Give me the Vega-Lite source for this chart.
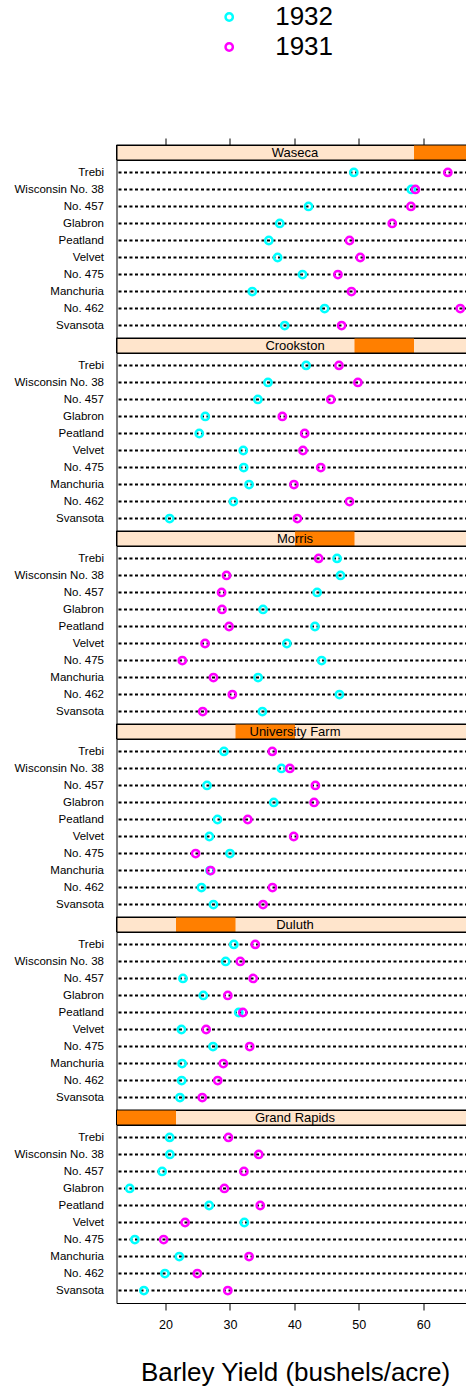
{
  "$schema": "https://vega.github.io/schema/vega-lite/v6.json",
  "padding": {"left": 13.5, "top": 4, "right": 0, "bottom": 2},
  "spacing": 0,
  "bounds": "flush",
  "datasets": {
    "strips": [
      {"site": "Waseca", "level": 6},
      {"site": "Crookston", "level": 5},
      {"site": "Morris", "level": 4},
      {"site": "University Farm", "level": 3},
      {"site": "Duluth", "level": 2},
      {"site": "Grand Rapids", "level": 1}
    ],
    "barley": [
      {"site": "University Farm", "variety": "Manchuria", "year": "1932", "yield": 26.9},
      {"site": "Waseca", "variety": "Manchuria", "year": "1932", "yield": 33.46667},
      {"site": "Morris", "variety": "Manchuria", "year": "1932", "yield": 34.36666},
      {"site": "Crookston", "variety": "Manchuria", "year": "1932", "yield": 32.96667},
      {"site": "Grand Rapids", "variety": "Manchuria", "year": "1932", "yield": 22.13333},
      {"site": "Duluth", "variety": "Manchuria", "year": "1932", "yield": 22.56667},
      {"site": "University Farm", "variety": "Glabron", "year": "1932", "yield": 36.8},
      {"site": "Waseca", "variety": "Glabron", "year": "1932", "yield": 37.73333},
      {"site": "Morris", "variety": "Glabron", "year": "1932", "yield": 35.13333},
      {"site": "Crookston", "variety": "Glabron", "year": "1932", "yield": 26.16667},
      {"site": "Grand Rapids", "variety": "Glabron", "year": "1932", "yield": 14.43333},
      {"site": "Duluth", "variety": "Glabron", "year": "1932", "yield": 25.86667},
      {"site": "University Farm", "variety": "Svansota", "year": "1932", "yield": 27.43334},
      {"site": "Waseca", "variety": "Svansota", "year": "1932", "yield": 38.5},
      {"site": "Morris", "variety": "Svansota", "year": "1932", "yield": 35.03333},
      {"site": "Crookston", "variety": "Svansota", "year": "1932", "yield": 20.63333},
      {"site": "Grand Rapids", "variety": "Svansota", "year": "1932", "yield": 16.63333},
      {"site": "Duluth", "variety": "Svansota", "year": "1932", "yield": 22.23333},
      {"site": "University Farm", "variety": "Velvet", "year": "1932", "yield": 26.8},
      {"site": "Waseca", "variety": "Velvet", "year": "1932", "yield": 37.4},
      {"site": "Morris", "variety": "Velvet", "year": "1932", "yield": 38.83333},
      {"site": "Crookston", "variety": "Velvet", "year": "1932", "yield": 32.06666},
      {"site": "Grand Rapids", "variety": "Velvet", "year": "1932", "yield": 32.23333},
      {"site": "Duluth", "variety": "Velvet", "year": "1932", "yield": 22.46667},
      {"site": "University Farm", "variety": "Trebi", "year": "1932", "yield": 29.06667},
      {"site": "Waseca", "variety": "Trebi", "year": "1932", "yield": 49.2333},
      {"site": "Morris", "variety": "Trebi", "year": "1932", "yield": 46.63333},
      {"site": "Crookston", "variety": "Trebi", "year": "1932", "yield": 41.83333},
      {"site": "Grand Rapids", "variety": "Trebi", "year": "1932", "yield": 20.63333},
      {"site": "Duluth", "variety": "Trebi", "year": "1932", "yield": 30.6},
      {"site": "University Farm", "variety": "No. 457", "year": "1932", "yield": 26.43334},
      {"site": "Waseca", "variety": "No. 457", "year": "1932", "yield": 42.2},
      {"site": "Morris", "variety": "No. 457", "year": "1932", "yield": 43.53334},
      {"site": "Crookston", "variety": "No. 457", "year": "1932", "yield": 34.33333},
      {"site": "Grand Rapids", "variety": "No. 457", "year": "1932", "yield": 19.46667},
      {"site": "Duluth", "variety": "No. 457", "year": "1932", "yield": 22.7},
      {"site": "University Farm", "variety": "No. 462", "year": "1932", "yield": 25.56667},
      {"site": "Waseca", "variety": "No. 462", "year": "1932", "yield": 44.7},
      {"site": "Morris", "variety": "No. 462", "year": "1932", "yield": 47},
      {"site": "Crookston", "variety": "No. 462", "year": "1932", "yield": 30.53333},
      {"site": "Grand Rapids", "variety": "No. 462", "year": "1932", "yield": 19.9},
      {"site": "Duluth", "variety": "No. 462", "year": "1932", "yield": 22.5},
      {"site": "University Farm", "variety": "Peatland", "year": "1932", "yield": 28.06667},
      {"site": "Waseca", "variety": "Peatland", "year": "1932", "yield": 36.03333},
      {"site": "Morris", "variety": "Peatland", "year": "1932", "yield": 43.2},
      {"site": "Crookston", "variety": "Peatland", "year": "1932", "yield": 25.23333},
      {"site": "Grand Rapids", "variety": "Peatland", "year": "1932", "yield": 26.76667},
      {"site": "Duluth", "variety": "Peatland", "year": "1932", "yield": 31.36667},
      {"site": "University Farm", "variety": "No. 475", "year": "1932", "yield": 30},
      {"site": "Waseca", "variety": "No. 475", "year": "1932", "yield": 41.26667},
      {"site": "Morris", "variety": "No. 475", "year": "1932", "yield": 44.23333},
      {"site": "Crookston", "variety": "No. 475", "year": "1932", "yield": 32.13333},
      {"site": "Grand Rapids", "variety": "No. 475", "year": "1932", "yield": 15.23333},
      {"site": "Duluth", "variety": "No. 475", "year": "1932", "yield": 27.36667},
      {"site": "University Farm", "variety": "Wisconsin No. 38", "year": "1932", "yield": 38},
      {"site": "Waseca", "variety": "Wisconsin No. 38", "year": "1932", "yield": 58.16667},
      {"site": "Morris", "variety": "Wisconsin No. 38", "year": "1932", "yield": 47.16667},
      {"site": "Crookston", "variety": "Wisconsin No. 38", "year": "1932", "yield": 35.9},
      {"site": "Grand Rapids", "variety": "Wisconsin No. 38", "year": "1932", "yield": 20.66667},
      {"site": "Duluth", "variety": "Wisconsin No. 38", "year": "1932", "yield": 29.33333},
      {"site": "University Farm", "variety": "Manchuria", "year": "1931", "yield": 27},
      {"site": "Waseca", "variety": "Manchuria", "year": "1931", "yield": 48.86667},
      {"site": "Morris", "variety": "Manchuria", "year": "1931", "yield": 27.43334},
      {"site": "Crookston", "variety": "Manchuria", "year": "1931", "yield": 39.93333},
      {"site": "Grand Rapids", "variety": "Manchuria", "year": "1931", "yield": 32.96667},
      {"site": "Duluth", "variety": "Manchuria", "year": "1931", "yield": 28.96667},
      {"site": "University Farm", "variety": "Glabron", "year": "1931", "yield": 43.06666},
      {"site": "Waseca", "variety": "Glabron", "year": "1931", "yield": 55.2},
      {"site": "Morris", "variety": "Glabron", "year": "1931", "yield": 28.76667},
      {"site": "Crookston", "variety": "Glabron", "year": "1931", "yield": 38.13333},
      {"site": "Grand Rapids", "variety": "Glabron", "year": "1931", "yield": 29.13333},
      {"site": "Duluth", "variety": "Glabron", "year": "1931", "yield": 29.66667},
      {"site": "University Farm", "variety": "Svansota", "year": "1931", "yield": 35.13333},
      {"site": "Waseca", "variety": "Svansota", "year": "1931", "yield": 47.33333},
      {"site": "Morris", "variety": "Svansota", "year": "1931", "yield": 25.76667},
      {"site": "Crookston", "variety": "Svansota", "year": "1931", "yield": 40.46667},
      {"site": "Grand Rapids", "variety": "Svansota", "year": "1931", "yield": 29.66667},
      {"site": "Duluth", "variety": "Svansota", "year": "1931", "yield": 25.7},
      {"site": "University Farm", "variety": "Velvet", "year": "1931", "yield": 39.9},
      {"site": "Waseca", "variety": "Velvet", "year": "1931", "yield": 50.23333},
      {"site": "Morris", "variety": "Velvet", "year": "1931", "yield": 26.13333},
      {"site": "Crookston", "variety": "Velvet", "year": "1931", "yield": 41.33333},
      {"site": "Grand Rapids", "variety": "Velvet", "year": "1931", "yield": 23.03333},
      {"site": "Duluth", "variety": "Velvet", "year": "1931", "yield": 26.3},
      {"site": "University Farm", "variety": "Trebi", "year": "1931", "yield": 36.56666},
      {"site": "Waseca", "variety": "Trebi", "year": "1931", "yield": 63.8333},
      {"site": "Morris", "variety": "Trebi", "year": "1931", "yield": 43.76667},
      {"site": "Crookston", "variety": "Trebi", "year": "1931", "yield": 46.93333},
      {"site": "Grand Rapids", "variety": "Trebi", "year": "1931", "yield": 29.76667},
      {"site": "Duluth", "variety": "Trebi", "year": "1931", "yield": 33.93333},
      {"site": "University Farm", "variety": "No. 457", "year": "1931", "yield": 43.26667},
      {"site": "Waseca", "variety": "No. 457", "year": "1931", "yield": 58.1},
      {"site": "Morris", "variety": "No. 457", "year": "1931", "yield": 28.7},
      {"site": "Crookston", "variety": "No. 457", "year": "1931", "yield": 45.66667},
      {"site": "Grand Rapids", "variety": "No. 457", "year": "1931", "yield": 32.16667},
      {"site": "Duluth", "variety": "No. 457", "year": "1931", "yield": 33.6},
      {"site": "University Farm", "variety": "No. 462", "year": "1931", "yield": 36.6},
      {"site": "Waseca", "variety": "No. 462", "year": "1931", "yield": 65.7667},
      {"site": "Morris", "variety": "No. 462", "year": "1931", "yield": 30.36667},
      {"site": "Crookston", "variety": "No. 462", "year": "1931", "yield": 48.56666},
      {"site": "Grand Rapids", "variety": "No. 462", "year": "1931", "yield": 24.93334},
      {"site": "Duluth", "variety": "No. 462", "year": "1931", "yield": 28.1},
      {"site": "University Farm", "variety": "Peatland", "year": "1931", "yield": 32.76667},
      {"site": "Waseca", "variety": "Peatland", "year": "1931", "yield": 48.56666},
      {"site": "Morris", "variety": "Peatland", "year": "1931", "yield": 29.86667},
      {"site": "Crookston", "variety": "Peatland", "year": "1931", "yield": 41.6},
      {"site": "Grand Rapids", "variety": "Peatland", "year": "1931", "yield": 34.7},
      {"site": "Duluth", "variety": "Peatland", "year": "1931", "yield": 32},
      {"site": "University Farm", "variety": "No. 475", "year": "1931", "yield": 24.66667},
      {"site": "Waseca", "variety": "No. 475", "year": "1931", "yield": 46.76667},
      {"site": "Morris", "variety": "No. 475", "year": "1931", "yield": 22.6},
      {"site": "Crookston", "variety": "No. 475", "year": "1931", "yield": 44.1},
      {"site": "Grand Rapids", "variety": "No. 475", "year": "1931", "yield": 19.7},
      {"site": "Duluth", "variety": "No. 475", "year": "1931", "yield": 33.06666},
      {"site": "University Farm", "variety": "Wisconsin No. 38", "year": "1931", "yield": 39.3},
      {"site": "Waseca", "variety": "Wisconsin No. 38", "year": "1931", "yield": 58.8},
      {"site": "Morris", "variety": "Wisconsin No. 38", "year": "1931", "yield": 29.46667},
      {"site": "Crookston", "variety": "Wisconsin No. 38", "year": "1931", "yield": 49.86667},
      {"site": "Grand Rapids", "variety": "Wisconsin No. 38", "year": "1931", "yield": 34.46667},
      {"site": "Duluth", "variety": "Wisconsin No. 38", "year": "1931", "yield": 31.6}
    ]
  },
  "config": {
    "font": "Liberation Sans",
    "view": {"stroke": "black", "strokeWidth": 1},
    "axis": {"labelColor": "black", "tickColor": "black", "titleColor": "black", "labelFont": "Liberation Sans", "titleFont": "Liberation Sans", "grid": false, "domain": false},
    "axisY": {"ticks": false, "labelFontSize": 11.5, "labelPadding": 13},
    "legend": {"orient": "none", "legendX": 99.7, "legendY": -141, "direction": "vertical", "labelFontSize": 26, "labelFont": "Liberation Sans", "labelColor": "black", "symbolSize": 53, "symbolStrokeWidth": 2.5, "symbolType": "circle", "rowPadding": 4, "labelOffset": 33, "padding": 0, "symbolOpacity": 1}
  },
  "resolve": {"scale": {"x": "independent", "y": "independent", "color": "shared"}},
  "vconcat": [
    {"width": 357, "height": 15, "view": {"fill": "#FFE5CC", "stroke": "black"}, "data": {"name": "strips"}, "transform": [{"filter": "datum.site === 'Waseca'"}],
     "layer": [
      {"mark": {"type": "rect", "color": "#FF7F00"}, "encoding": {"x": {"field": "level", "type": "ordinal", "scale": {"domain": [1, 2, 3, 4, 5, 6], "paddingInner": 0, "paddingOuter": 0}, "axis": null}}},
      {"mark": {"type": "rect", "fillOpacity": 0, "stroke": "black", "strokeWidth": 1}, "encoding": {}},
      {"mark": {"type": "text", "fontSize": 13, "color": "black"}, "encoding": {"text": {"field": "site"}, "x": {"datum": 40.1, "type": "quantitative", "scale": {"domain": [12.38, 67.82], "nice": false, "zero": false}, "axis": {"orient": "top", "values": [20, 30, 40, 50, 60], "labels": false, "tickSize": 7, "title": null}}}}
     ], "resolve": {"scale": {"x": "independent"}}},
    {"width": 357, "height": 178, "data": {"name": "barley"}, "transform": [{"filter": "datum.site === 'Waseca'"}],
     "encoding": {"y": {"field": "variety", "type": "nominal", "title": null, "scale": {"type": "point", "padding": 0.73, "domain": ["Trebi", "Wisconsin No. 38", "No. 457", "Glabron", "Peatland", "Velvet", "No. 475", "Manchuria", "No. 462", "Svansota"]}}},
     "layer": [
      {"transform": [{"filter": "datum.year === '1931'"}], "mark": {"type": "rule", "color": "black", "strokeDash": [3, 2.5], "strokeWidth": 2}, "encoding": {}},
      {"mark": {"type": "point", "filled": false, "size": 53, "strokeWidth": 2.5, "opacity": 1}, "encoding": {"x": {"field": "yield", "type": "quantitative", "scale": {"domain": [12.38, 67.82], "nice": false, "zero": false}, "axis": null}, "color": {"field": "year", "type": "nominal", "title": null, "scale": {"domain": ["1932", "1931"], "range": ["#00FFFF", "#FF00FF"]}}}}
     ]},
    {"width": 357, "height": 15, "view": {"fill": "#FFE5CC", "stroke": "black"}, "data": {"name": "strips"}, "transform": [{"filter": "datum.site === 'Crookston'"}],
     "layer": [
      {"mark": {"type": "rect", "color": "#FF7F00"}, "encoding": {"x": {"field": "level", "type": "ordinal", "scale": {"domain": [1, 2, 3, 4, 5, 6], "paddingInner": 0, "paddingOuter": 0}, "axis": null}}},
      {"mark": {"type": "rect", "fillOpacity": 0, "stroke": "black", "strokeWidth": 1}, "encoding": {}},
      {"mark": {"type": "text", "fontSize": 13, "color": "black"}, "encoding": {"text": {"field": "site"}, "x": {"datum": 40.1, "type": "quantitative", "scale": {"domain": [12.38, 67.82], "nice": false, "zero": false}, "axis": null}}}
     ], "resolve": {"scale": {"x": "independent"}}},
    {"width": 357, "height": 178, "data": {"name": "barley"}, "transform": [{"filter": "datum.site === 'Crookston'"}],
     "encoding": {"y": {"field": "variety", "type": "nominal", "title": null, "scale": {"type": "point", "padding": 0.73, "domain": ["Trebi", "Wisconsin No. 38", "No. 457", "Glabron", "Peatland", "Velvet", "No. 475", "Manchuria", "No. 462", "Svansota"]}}},
     "layer": [
      {"transform": [{"filter": "datum.year === '1931'"}], "mark": {"type": "rule", "color": "black", "strokeDash": [3, 2.5], "strokeWidth": 2}, "encoding": {}},
      {"mark": {"type": "point", "filled": false, "size": 53, "strokeWidth": 2.5, "opacity": 1}, "encoding": {"x": {"field": "yield", "type": "quantitative", "scale": {"domain": [12.38, 67.82], "nice": false, "zero": false}, "axis": null}, "color": {"field": "year", "type": "nominal", "title": null, "scale": {"domain": ["1932", "1931"], "range": ["#00FFFF", "#FF00FF"]}}}}
     ]},
    {"width": 357, "height": 15, "view": {"fill": "#FFE5CC", "stroke": "black"}, "data": {"name": "strips"}, "transform": [{"filter": "datum.site === 'Morris'"}],
     "layer": [
      {"mark": {"type": "rect", "color": "#FF7F00"}, "encoding": {"x": {"field": "level", "type": "ordinal", "scale": {"domain": [1, 2, 3, 4, 5, 6], "paddingInner": 0, "paddingOuter": 0}, "axis": null}}},
      {"mark": {"type": "rect", "fillOpacity": 0, "stroke": "black", "strokeWidth": 1}, "encoding": {}},
      {"mark": {"type": "text", "fontSize": 13, "color": "black"}, "encoding": {"text": {"field": "site"}, "x": {"datum": 40.1, "type": "quantitative", "scale": {"domain": [12.38, 67.82], "nice": false, "zero": false}, "axis": null}}}
     ], "resolve": {"scale": {"x": "independent"}}},
    {"width": 357, "height": 178, "data": {"name": "barley"}, "transform": [{"filter": "datum.site === 'Morris'"}],
     "encoding": {"y": {"field": "variety", "type": "nominal", "title": null, "scale": {"type": "point", "padding": 0.73, "domain": ["Trebi", "Wisconsin No. 38", "No. 457", "Glabron", "Peatland", "Velvet", "No. 475", "Manchuria", "No. 462", "Svansota"]}}},
     "layer": [
      {"transform": [{"filter": "datum.year === '1931'"}], "mark": {"type": "rule", "color": "black", "strokeDash": [3, 2.5], "strokeWidth": 2}, "encoding": {}},
      {"mark": {"type": "point", "filled": false, "size": 53, "strokeWidth": 2.5, "opacity": 1}, "encoding": {"x": {"field": "yield", "type": "quantitative", "scale": {"domain": [12.38, 67.82], "nice": false, "zero": false}, "axis": null}, "color": {"field": "year", "type": "nominal", "title": null, "scale": {"domain": ["1932", "1931"], "range": ["#00FFFF", "#FF00FF"]}}}}
     ]},
    {"width": 357, "height": 15, "view": {"fill": "#FFE5CC", "stroke": "black"}, "data": {"name": "strips"}, "transform": [{"filter": "datum.site === 'University Farm'"}],
     "layer": [
      {"mark": {"type": "rect", "color": "#FF7F00"}, "encoding": {"x": {"field": "level", "type": "ordinal", "scale": {"domain": [1, 2, 3, 4, 5, 6], "paddingInner": 0, "paddingOuter": 0}, "axis": null}}},
      {"mark": {"type": "rect", "fillOpacity": 0, "stroke": "black", "strokeWidth": 1}, "encoding": {}},
      {"mark": {"type": "text", "fontSize": 13, "color": "black"}, "encoding": {"text": {"field": "site"}, "x": {"datum": 40.1, "type": "quantitative", "scale": {"domain": [12.38, 67.82], "nice": false, "zero": false}, "axis": null}}}
     ], "resolve": {"scale": {"x": "independent"}}},
    {"width": 357, "height": 178, "data": {"name": "barley"}, "transform": [{"filter": "datum.site === 'University Farm'"}],
     "encoding": {"y": {"field": "variety", "type": "nominal", "title": null, "scale": {"type": "point", "padding": 0.73, "domain": ["Trebi", "Wisconsin No. 38", "No. 457", "Glabron", "Peatland", "Velvet", "No. 475", "Manchuria", "No. 462", "Svansota"]}}},
     "layer": [
      {"transform": [{"filter": "datum.year === '1931'"}], "mark": {"type": "rule", "color": "black", "strokeDash": [3, 2.5], "strokeWidth": 2}, "encoding": {}},
      {"mark": {"type": "point", "filled": false, "size": 53, "strokeWidth": 2.5, "opacity": 1}, "encoding": {"x": {"field": "yield", "type": "quantitative", "scale": {"domain": [12.38, 67.82], "nice": false, "zero": false}, "axis": null}, "color": {"field": "year", "type": "nominal", "title": null, "scale": {"domain": ["1932", "1931"], "range": ["#00FFFF", "#FF00FF"]}}}}
     ]},
    {"width": 357, "height": 15, "view": {"fill": "#FFE5CC", "stroke": "black"}, "data": {"name": "strips"}, "transform": [{"filter": "datum.site === 'Duluth'"}],
     "layer": [
      {"mark": {"type": "rect", "color": "#FF7F00"}, "encoding": {"x": {"field": "level", "type": "ordinal", "scale": {"domain": [1, 2, 3, 4, 5, 6], "paddingInner": 0, "paddingOuter": 0}, "axis": null}}},
      {"mark": {"type": "rect", "fillOpacity": 0, "stroke": "black", "strokeWidth": 1}, "encoding": {}},
      {"mark": {"type": "text", "fontSize": 13, "color": "black"}, "encoding": {"text": {"field": "site"}, "x": {"datum": 40.1, "type": "quantitative", "scale": {"domain": [12.38, 67.82], "nice": false, "zero": false}, "axis": null}}}
     ], "resolve": {"scale": {"x": "independent"}}},
    {"width": 357, "height": 178, "data": {"name": "barley"}, "transform": [{"filter": "datum.site === 'Duluth'"}],
     "encoding": {"y": {"field": "variety", "type": "nominal", "title": null, "scale": {"type": "point", "padding": 0.73, "domain": ["Trebi", "Wisconsin No. 38", "No. 457", "Glabron", "Peatland", "Velvet", "No. 475", "Manchuria", "No. 462", "Svansota"]}}},
     "layer": [
      {"transform": [{"filter": "datum.year === '1931'"}], "mark": {"type": "rule", "color": "black", "strokeDash": [3, 2.5], "strokeWidth": 2}, "encoding": {}},
      {"mark": {"type": "point", "filled": false, "size": 53, "strokeWidth": 2.5, "opacity": 1}, "encoding": {"x": {"field": "yield", "type": "quantitative", "scale": {"domain": [12.38, 67.82], "nice": false, "zero": false}, "axis": null}, "color": {"field": "year", "type": "nominal", "title": null, "scale": {"domain": ["1932", "1931"], "range": ["#00FFFF", "#FF00FF"]}}}}
     ]},
    {"width": 357, "height": 15, "view": {"fill": "#FFE5CC", "stroke": "black"}, "data": {"name": "strips"}, "transform": [{"filter": "datum.site === 'Grand Rapids'"}],
     "layer": [
      {"mark": {"type": "rect", "color": "#FF7F00"}, "encoding": {"x": {"field": "level", "type": "ordinal", "scale": {"domain": [1, 2, 3, 4, 5, 6], "paddingInner": 0, "paddingOuter": 0}, "axis": null}}},
      {"mark": {"type": "rect", "fillOpacity": 0, "stroke": "black", "strokeWidth": 1}, "encoding": {}},
      {"mark": {"type": "text", "fontSize": 13, "color": "black"}, "encoding": {"text": {"field": "site"}, "x": {"datum": 40.1, "type": "quantitative", "scale": {"domain": [12.38, 67.82], "nice": false, "zero": false}, "axis": null}}}
     ], "resolve": {"scale": {"x": "independent"}}},
    {"width": 357, "height": 178, "data": {"name": "barley"}, "transform": [{"filter": "datum.site === 'Grand Rapids'"}],
     "encoding": {"y": {"field": "variety", "type": "nominal", "title": null, "scale": {"type": "point", "padding": 0.73, "domain": ["Trebi", "Wisconsin No. 38", "No. 457", "Glabron", "Peatland", "Velvet", "No. 475", "Manchuria", "No. 462", "Svansota"]}}},
     "layer": [
      {"transform": [{"filter": "datum.year === '1931'"}], "mark": {"type": "rule", "color": "black", "strokeDash": [3, 2.5], "strokeWidth": 2}, "encoding": {}},
      {"mark": {"type": "point", "filled": false, "size": 53, "strokeWidth": 2.5, "opacity": 1}, "encoding": {"x": {"field": "yield", "type": "quantitative", "scale": {"domain": [12.38, 67.82], "nice": false, "zero": false}, "axis": {"orient": "bottom", "values": [20, 30, 40, 50, 60], "tickSize": 7, "labelPadding": 8, "labelFontSize": 12.5, "title": "Barley Yield (bushels/acre)", "titleFontSize": 26, "titleFontWeight": "normal", "titlePadding": 29}}, "color": {"field": "year", "type": "nominal", "title": null, "scale": {"domain": ["1932", "1931"], "range": ["#00FFFF", "#FF00FF"]}}}}
     ]}
  ]
}
